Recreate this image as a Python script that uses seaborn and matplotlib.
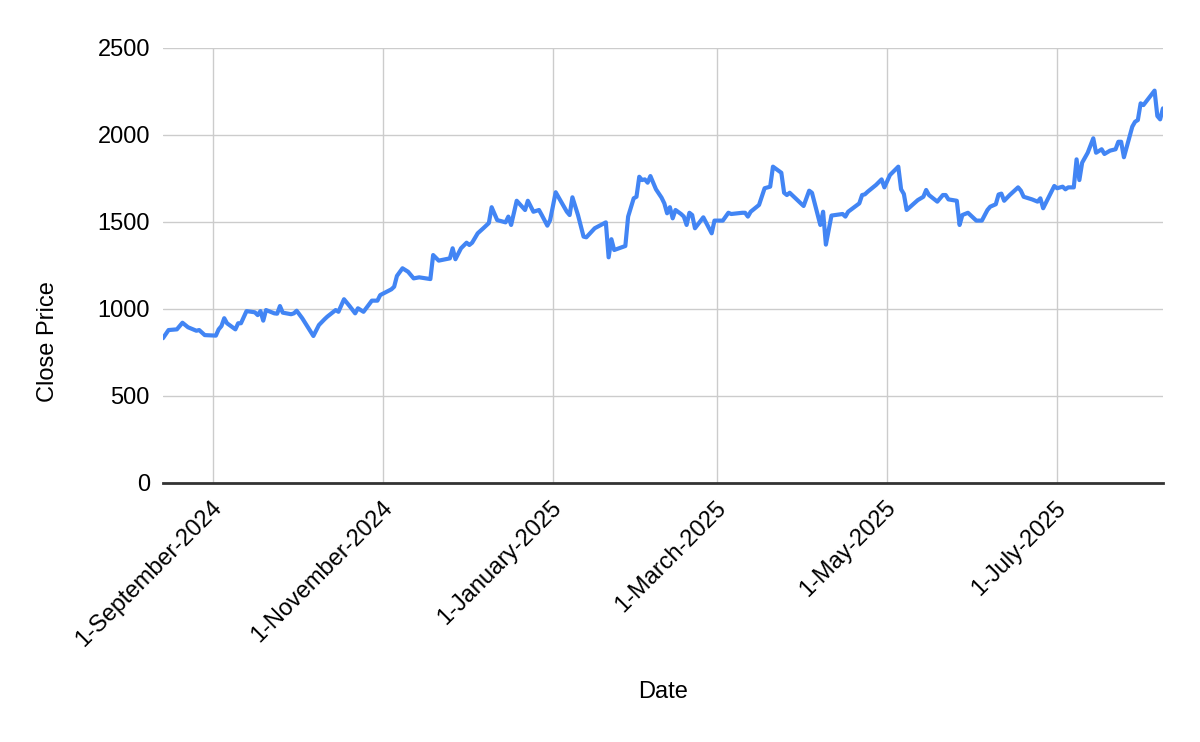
import pandas as pd
import matplotlib
matplotlib.use("Agg")
import matplotlib.pyplot as plt
import matplotlib.transforms as mtransforms
import seaborn as sns

# Close price readings
dates = [
    "2024-08-14", "2024-08-16", "2024-08-19", "2024-08-21", "2024-08-23", "2024-08-26",
    "2024-08-27", "2024-08-29", "2024-09-02", "2024-09-03", "2024-09-04", "2024-09-05",
    "2024-09-06", "2024-09-09", "2024-09-10", "2024-09-11", "2024-09-13", "2024-09-16",
    "2024-09-17", "2024-09-18", "2024-09-19", "2024-09-20", "2024-09-23", "2024-09-24",
    "2024-09-25", "2024-09-26", "2024-09-29", "2024-09-30", "2024-10-01", "2024-10-03",
    "2024-10-07", "2024-10-09", "2024-10-11", "2024-10-12", "2024-10-15", "2024-10-16",
    "2024-10-18", "2024-10-20", "2024-10-22", "2024-10-23", "2024-10-25", "2024-10-28",
    "2024-10-30", "2024-10-31", "2024-11-04", "2024-11-05", "2024-11-06", "2024-11-08",
    "2024-11-10", "2024-11-12", "2024-11-14", "2024-11-18", "2024-11-19", "2024-11-21",
    "2024-11-25", "2024-11-26", "2024-11-27", "2024-11-29", "2024-12-01", "2024-12-02",
    "2024-12-03", "2024-12-05", "2024-12-07", "2024-12-09", "2024-12-10", "2024-12-12",
    "2024-12-15", "2024-12-16", "2024-12-17", "2024-12-19", "2024-12-22", "2024-12-23",
    "2024-12-25", "2024-12-27", "2024-12-28", "2024-12-30", "2024-12-31", "2025-01-02",
    "2025-01-06", "2025-01-07", "2025-01-08", "2025-01-10", "2025-01-12", "2025-01-13",
    "2025-01-16", "2025-01-20", "2025-01-21", "2025-01-22", "2025-01-23", "2025-01-27",
    "2025-01-28", "2025-01-30", "2025-01-31", "2025-02-01", "2025-02-02", "2025-02-03",
    "2025-02-04", "2025-02-05", "2025-02-07", "2025-02-09", "2025-02-10", "2025-02-11",
    "2025-02-12", "2025-02-13", "2025-02-14", "2025-02-16", "2025-02-17", "2025-02-18",
    "2025-02-19", "2025-02-20", "2025-02-21", "2025-02-24", "2025-02-27", "2025-02-28",
    "2025-03-03", "2025-03-05", "2025-03-06", "2025-03-10", "2025-03-11", "2025-03-12",
    "2025-03-13", "2025-03-16", "2025-03-18", "2025-03-20", "2025-03-21", "2025-03-24",
    "2025-03-25", "2025-03-26", "2025-03-27", "2025-04-01", "2025-04-03", "2025-04-04",
    "2025-04-07", "2025-04-08", "2025-04-09", "2025-04-11", "2025-04-15", "2025-04-16",
    "2025-04-17", "2025-04-21", "2025-04-22", "2025-04-23", "2025-04-24", "2025-04-27",
    "2025-04-29", "2025-04-30", "2025-05-02", "2025-05-05", "2025-05-06", "2025-05-07",
    "2025-05-08", "2025-05-12", "2025-05-14", "2025-05-15", "2025-05-16", "2025-05-19",
    "2025-05-21", "2025-05-22", "2025-05-23", "2025-05-26", "2025-05-27", "2025-05-28",
    "2025-05-30", "2025-06-02", "2025-06-04", "2025-06-06", "2025-06-07", "2025-06-09",
    "2025-06-10", "2025-06-11", "2025-06-12", "2025-06-14", "2025-06-17", "2025-06-18",
    "2025-06-19", "2025-06-22", "2025-06-24", "2025-06-25", "2025-06-26", "2025-06-27",
    "2025-06-30", "2025-07-01", "2025-07-03", "2025-07-04", "2025-07-05", "2025-07-07",
    "2025-07-08", "2025-07-09", "2025-07-10", "2025-07-12", "2025-07-14", "2025-07-15",
    "2025-07-17", "2025-07-18", "2025-07-20", "2025-07-22", "2025-07-23", "2025-07-24",
    "2025-07-25", "2025-07-28", "2025-07-29", "2025-07-30", "2025-07-31", "2025-08-01",
    "2025-08-05", "2025-08-06", "2025-08-07", "2025-08-08",
]
close_price = [
    832, 879, 883, 921, 895, 875,
    879, 850, 847, 883, 902, 947,
    918, 883, 918, 918, 988, 981,
    965, 988, 933, 994, 975, 973,
    1017, 979, 970, 975, 990, 947,
    845, 908, 941, 956, 994, 984,
    1056, 1017, 975, 1004, 984, 1048,
    1048, 1080, 1113, 1128, 1190, 1234,
    1214, 1176, 1182, 1172, 1310, 1278,
    1291, 1349, 1286, 1349, 1381, 1368,
    1381, 1435, 1464, 1494, 1585, 1511,
    1498, 1531, 1483, 1622, 1569, 1622,
    1559, 1569, 1540, 1479, 1511, 1671,
    1559, 1540, 1642, 1540, 1416, 1412,
    1464, 1498, 1297, 1401, 1339, 1362,
    1531, 1636, 1645, 1760, 1741, 1745,
    1726, 1764, 1688, 1640, 1607, 1550,
    1585, 1521, 1569, 1546, 1531, 1483,
    1553, 1540, 1464, 1527, 1435, 1508,
    1508, 1553, 1546, 1553, 1553, 1531,
    1559, 1598, 1694, 1703, 1818, 1783,
    1668, 1655, 1668, 1592, 1680, 1668,
    1483, 1559, 1370, 1537, 1546, 1531,
    1559, 1607, 1655, 1659, 1674, 1713,
    1745, 1699, 1770, 1818, 1688, 1661,
    1569, 1626, 1645, 1684, 1655, 1617,
    1655, 1655, 1630, 1622, 1483, 1540,
    1553, 1508, 1508, 1569, 1588, 1602,
    1658, 1663, 1622, 1655, 1699, 1680,
    1645, 1630, 1617, 1636, 1579, 1611,
    1707, 1694, 1703, 1688, 1699, 1699,
    1860, 1741, 1841, 1898, 1981, 1898,
    1918, 1891, 1910, 1918, 1961, 1961,
    1872, 2048, 2076, 2086, 2182, 2172,
    2255, 2109, 2090, 2153,
]

tick_dates = ["2024-09-01", "2024-11-01", "2025-01-01", "2025-03-01", "2025-05-01", "2025-07-01"]
tick_labels = ["1-September-2024", "1-November-2024", "1-January-2025",
               "1-March-2025", "1-May-2025", "1-July-2025"]
y_ticks = [0, 500, 1000, 1500, 2000, 2500]

df = pd.DataFrame({"Date": pd.to_datetime(dates), "Close Price": close_price})

sns.set_style("white")
plt.rcParams["font.family"] = ["Liberation Sans", "DejaVu Sans"]

fig = plt.figure(figsize=(12, 7.42), dpi=100)
ax = fig.add_axes([0.1358, 0.34906, 0.8333, 0.58625])

sns.lineplot(data=df, x="Date", y="Close Price", color="#4285F4", linewidth=3, ax=ax)

ax.set_xlim(df["Date"].iloc[0], df["Date"].iloc[-1])
ax.set_ylim(0, 2500)
ax.set_yticks(y_ticks)
ax.set_yticklabels([str(v) for v in y_ticks])
ax.set_xticks(pd.to_datetime(tick_dates))
ax.set_xticklabels(tick_labels)

ax.grid(True, color="#cccccc", linewidth=1)
ax.set_axisbelow(True)
for side in ["top", "right", "left"]:
    ax.spines[side].set_visible(False)
ax.spines["bottom"].set_color("#333333")
ax.spines["bottom"].set_linewidth(2)
ax.spines["bottom"].set_zorder(3)

ax.tick_params(axis="y", length=0, pad=9.4, labelsize=17, labelcolor="#000000")
ax.tick_params(axis="x", length=0, pad=10, labelsize=17, labelcolor="#000000")

offset = mtransforms.ScaledTranslation(-2 / 100, 0, fig.dpi_scale_trans)
for lbl in ax.get_xticklabels():
    lbl.set_rotation(45)
    lbl.set_ha("right")
    lbl.set_va("top")
    lbl.set_rotation_mode("anchor")
    lbl.set_transform(lbl.get_transform() + offset)

ax.set_xlabel("Date", fontsize=17, color="#000000")
ax.set_ylabel("Close Price", fontsize=17, color="#000000")
ax.xaxis.set_label_coords(0.5, -0.4805)
ax.xaxis.label.set_va("center")
ax.yaxis.set_label_coords(-0.115, 0.324)
ax.yaxis.label.set_va("center")

fig.savefig("out.png", dpi=100)
